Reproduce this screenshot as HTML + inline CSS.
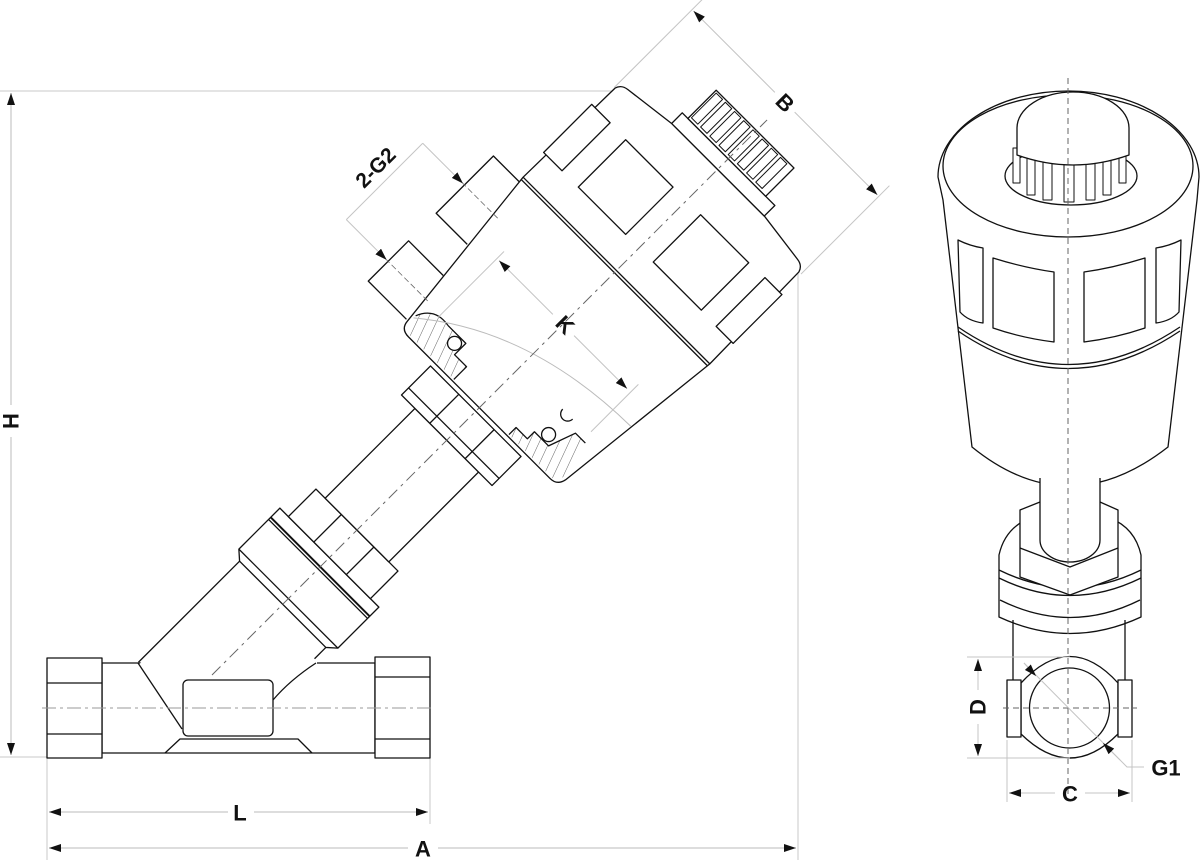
<!DOCTYPE html>
<html><head><meta charset="utf-8"><style>
html,body{margin:0;padding:0;background:#fff;}
svg{display:block;}
text{font-family:"Liberation Sans",sans-serif;fill:#111;font-weight:bold;}
</style></head><body>
<svg width="1200" height="860" viewBox="0 0 1200 860" xmlns="http://www.w3.org/2000/svg">
<defs>
<marker id="ar" viewBox="0 0 12 8" refX="12" refY="4" markerWidth="12" markerHeight="8" markerUnits="userSpaceOnUse" orient="auto-start-reverse">
<path d="M0,0 L12,4 L0,8 Z" fill="#111"/></marker>
<pattern id="hat" width="9" height="9" patternUnits="userSpaceOnUse" patternTransform="rotate(70)">
<line x1="0" y1="0" x2="0" y2="9" stroke="#222" stroke-width="0.7"/></pattern>
</defs>

<g stroke="#c8c8c8" stroke-width="1" fill="none">
<line x1="0" y1="91" x2="617" y2="91"/>
<line x1="0" y1="757" x2="47" y2="757"/>
<line x1="47" y1="758" x2="47" y2="860"/>
<line x1="430" y1="758" x2="430" y2="824"/>
<line x1="798" y1="272" x2="798" y2="860"/>
</g>
<g stroke="#bbb" stroke-width="1" fill="none">
<line x1="11" y1="93" x2="11" y2="405" marker-start="url(#ar)"/>
<line x1="11" y1="437" x2="11" y2="755" marker-end="url(#ar)"/>
<line x1="49" y1="812" x2="228" y2="812" marker-start="url(#ar)"/>
<line x1="254" y1="812" x2="428" y2="812" marker-end="url(#ar)"/>
<line x1="49" y1="848" x2="408" y2="848" marker-start="url(#ar)"/>
<line x1="438" y1="848" x2="796" y2="848" marker-end="url(#ar)"/>
</g>
<text x="11" y="421" font-size="22" text-anchor="middle" dominant-baseline="central" transform="rotate(-90 11 421)">H</text>
<text x="240" y="813" font-size="22" text-anchor="middle" dominant-baseline="central">L</text>
<text x="423" y="849" font-size="22" text-anchor="middle" dominant-baseline="central">A</text>

<g stroke="#111" stroke-width="1.3" fill="#fff" stroke-linejoin="round">
<rect x="102" y="663" width="273" height="90"/>
<rect x="47" y="658" width="55" height="100"/>
<line x1="47" y1="683" x2="102" y2="683"/>
<line x1="47" y1="734" x2="102" y2="734"/>
<rect x="375" y="657" width="55" height="101"/>
<line x1="375" y1="677" x2="430" y2="677"/>
<line x1="375" y1="739" x2="430" y2="739"/>
<path d="M165,753 L180,739 L298,739 L312,753" fill="none"/>
<path d="M139,664.5 L239,562 L325,650 L317,660 L317,664.5 Z" stroke="none"/>
<path d="M138,663 L182,729" fill="none"/>
<path d="M316,663 Q290,680 273,700" fill="none"/>
<rect x="183" y="680" width="90" height="56" rx="5"/>
</g>
<line x1="42" y1="708" x2="432" y2="708" stroke="#999" stroke-width="1" stroke-dasharray="14,4,3,4"/>

<g transform="translate(212,675) rotate(-45)">
<g stroke="#111" stroke-width="1.3" fill="#fff" stroke-linejoin="round">
<line x1="-43" y1="-61" x2="100" y2="-61"/>
<line x1="84" y1="61" x2="100" y2="61"/>
<path d="M100,-61 L108,-70 L166,-70 L166,70 L108,70 L100,61 Z"/>
<line x1="108" y1="-70" x2="108" y2="70"/>
<line x1="150" y1="-70" x2="150" y2="70"/>
<line x1="153" y1="-70" x2="153" y2="70" stroke-width="2"/>
<rect x="166" y="-58" width="39" height="116"/>
<line x1="166" y1="-22" x2="205" y2="-22"/>
<line x1="166" y1="24" x2="205" y2="24"/>
<rect x="205" y="-45" width="127" height="90"/>
<rect x="332" y="-64" width="41" height="128"/>
<line x1="342" y1="-64" x2="342" y2="64"/>
<line x1="332" y1="-24" x2="373" y2="-24"/>
<line x1="332" y1="26" x2="373" y2="26"/>
<path d="M485,-124 L485,-168 L566,-168 L566,-131"/>
<path d="M389,-114 L389,-168 L446,-168 L446,-119"/>
<path d="M388,-112 L572,-132 L700,-130 Q707,-128 708,-120 L715,-65 L715,67 L708,120 Q707,128 700,130 L572,132 L388,112 Q378,110 378,100 L378,-100 Q378,-111 388,-112 Z"/>
<line x1="569" y1="-132" x2="569" y2="132"/>
<line x1="572" y1="-132" x2="572" y2="132"/>
<rect x="604" y="-135" width="68" height="26"/>
<rect x="603" y="110" width="69" height="24"/>
<rect x="604" y="-86" width="67" height="67"/>
<rect x="604" y="20" width="67" height="68"/>
<rect x="715" y="-65" width="15" height="131"/>
<rect x="730" y="-57" width="40" height="110"/>
<g stroke-width="1">
<rect x="733" y="-55" width="35" height="9"/>
<rect x="733" y="-42" width="35" height="9"/>
<rect x="733" y="-29" width="35" height="9"/>
<rect x="733" y="-16" width="35" height="9"/>
<rect x="733" y="-3" width="35" height="9"/>
<rect x="733" y="10" width="35" height="9"/>
<rect x="733" y="23" width="35" height="9"/>
<rect x="733" y="36" width="35" height="9"/>
</g>
<path d="M380,-108 L380,-38 L398,-38 L398,-55 L414,-55 L414,-80 Q418,-102 398,-110 Z" fill="url(#hat)" stroke="none"/>
<path d="M380,40 L380,106 L394,110 L428,100 L428,86 L400,76 L400,56 L390,56 L390,40 Z" fill="url(#hat)" stroke="none"/>
<path d="M414,-80 Q418,-102 398,-110" fill="none"/>
<path d="M380,-38 L398,-38 L398,-55 L414,-55 L414,-80" fill="none"/>
<path d="M380,40 L390,40 L390,56 L400,56 L400,76 L428,86 L428,100" fill="none"/>
<circle cx="406" cy="-63" r="7"/>
<circle cx="408" cy="68" r="7"/>
<path d="M436,60 A7,7 0 0 0 436,74" fill="none"/>
</g>
<path d="M395,-110 Q470,-20 472,120" fill="none" stroke="#bbb" stroke-width="1"/>
<line x1="0" y1="0" x2="785" y2="0" stroke="#666" stroke-width="1" stroke-dasharray="12,5,3,5"/>
<line x1="525" y1="-172" x2="525" y2="-120" stroke="#666" stroke-width="0.8" stroke-dasharray="6,3"/>
<line x1="417" y1="-172" x2="417" y2="-112" stroke="#666" stroke-width="0.8" stroke-dasharray="6,3"/>
<g stroke="#c4c4c4" stroke-width="1" fill="none">
<line x1="700" y1="-131" x2="825" y2="-131"/>
<line x1="700" y1="133" x2="825" y2="133"/>
<line x1="810" y1="-129" x2="810" y2="-14" marker-start="url(#ar)"/>
<line x1="810" y1="14" x2="810" y2="131" marker-end="url(#ar)"/>
<line x1="413" y1="-93" x2="506" y2="-93"/>
<line x1="440" y1="96" x2="507" y2="96"/>
<line x1="496" y1="-90" x2="496" y2="-14" marker-start="url(#ar)"/>
<line x1="496" y1="16" x2="496" y2="91" marker-end="url(#ar)"/>
<line x1="417" y1="-227" x2="525" y2="-227"/>
<line x1="525" y1="-227" x2="525" y2="-170" marker-end="url(#ar)"/>
<line x1="417" y1="-227" x2="417" y2="-170" marker-end="url(#ar)"/>
</g>
</g>
<text x="785" y="103" font-size="22" text-anchor="middle" dominant-baseline="central" transform="rotate(45 785 103)">B</text>
<text x="565" y="325" font-size="22" text-anchor="middle" dominant-baseline="central" transform="rotate(45 565 325)">K</text>
<text x="376" y="168" font-size="21" text-anchor="middle" dominant-baseline="central" transform="rotate(-45 376 168)">2-G2</text>

<g stroke="#111" stroke-width="1.3" fill="#fff" stroke-linejoin="round">
<path d="M938,177 A130.5,86 0 0 1 1199,177 L1197,200 L1168,447 Q1068,525 972,447 L943,200 Z"/>
<ellipse cx="1068" cy="166" rx="125" ry="71"/>
<path d="M958,327 Q1068,402 1180,327" fill="none"/>
<path d="M958,331 Q1068,406 1180,331" fill="none"/>
<path d="M958,240 Q970,246 983,248 L983,323 Q968,321 960,312 Z"/>
<path d="M993,258 Q1025,268 1054,272 L1054,342 Q1022,338 993,328 Z"/>
<path d="M1145,258 Q1113,268 1084,272 L1084,342 Q1116,338 1145,328 Z"/>
<path d="M1181,240 Q1169,246 1156,248 L1156,323 Q1171,321 1179,312 Z"/>
<ellipse cx="1071" cy="176" rx="66" ry="29"/>
<g stroke-width="1">
<rect x="1013" y="148" width="7" height="35"/>
<rect x="1027" y="152" width="8" height="43"/>
<rect x="1043" y="152" width="9" height="48"/>
<rect x="1064" y="152" width="10" height="50"/>
<rect x="1086" y="152" width="9" height="48"/>
<rect x="1103" y="152" width="8" height="43"/>
<rect x="1119" y="148" width="7" height="35"/>
</g>
<path d="M1017,155 L1017,128 A56,36 0 0 1 1129,128 L1129,155 Q1073,175 1017,155 Z"/>
<path d="M999,617 L999,555 Q1005,528 1030,518 L1110,518 Q1135,528 1141,555 L1141,617 Q1070,650 999,617 Z"/>
<path d="M999,570 Q1070,605 1141,570" fill="none"/>
<path d="M999,578 Q1070,613 1141,578" fill="none"/>
<path d="M1000,600 Q1070,635 1140,600" fill="none"/>
<path d="M1020,510 L1040,502 L1100,502 L1118,510 L1118,577 L1070,595 L1020,577 Z"/>
<path d="M1020,548 L1070,567 L1118,548" fill="none"/>
<path d="M1040,478 L1040,540 A30,22 0 0 0 1100,540 L1100,478"/>
<line x1="1013" y1="620" x2="1013" y2="680"/>
<line x1="1125" y1="620" x2="1125" y2="680"/>
<path d="M1021,683 Q1070,630 1118,683 L1118,734 Q1070,782 1021,734 Z"/>
<rect x="1007" y="680" width="14" height="57"/>
<rect x="1118" y="680" width="14" height="57"/>
<circle cx="1069.5" cy="708" r="40"/>
</g>
<line x1="1068" y1="78" x2="1068" y2="800" stroke="#666" stroke-width="1" stroke-dasharray="6,4"/>
<line x1="1003" y1="708" x2="1137" y2="708" stroke="#666" stroke-width="1" stroke-dasharray="6,4"/>
<g stroke="#c4c4c4" stroke-width="1" fill="none">
<line x1="967" y1="657" x2="1070" y2="657"/>
<line x1="967" y1="758" x2="1070" y2="758"/>
<line x1="1007" y1="740" x2="1007" y2="802"/>
<line x1="1132" y1="740" x2="1132" y2="802"/>
<line x1="978" y1="690" x2="978" y2="659" marker-end="url(#ar)"/>
<line x1="978" y1="724" x2="978" y2="756" marker-end="url(#ar)"/>
<line x1="1055" y1="793" x2="1009" y2="793" marker-end="url(#ar)"/>
<line x1="1085" y1="793" x2="1130" y2="793" marker-end="url(#ar)"/>
<path d="M1024,663 L1127,767 L1144,767"/>
<line x1="1024" y1="663" x2="1036" y2="676" marker-end="url(#ar)"/>
<line x1="1120" y1="760" x2="1103" y2="743" marker-end="url(#ar)"/>
</g>
<text x="978" y="707" font-size="22" text-anchor="middle" dominant-baseline="central" transform="rotate(-90 978 707)">D</text>
<text x="1070" y="794" font-size="22" text-anchor="middle" dominant-baseline="central">C</text>
<text x="1166" y="768" font-size="22" text-anchor="middle" dominant-baseline="central">G1</text>
</svg>
</body></html>
